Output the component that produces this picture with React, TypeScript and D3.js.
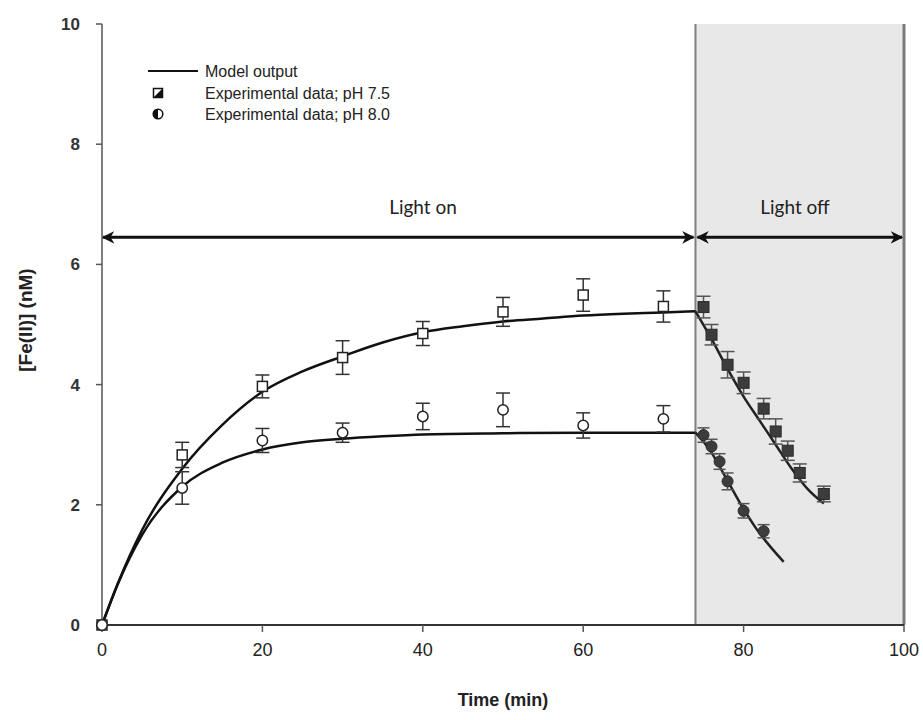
import React from "react";
import * as d3 from "d3";

// ---------- data ----------
const xTicks = [0, 20, 40, 60, 80, 100];
const yTicks = [0, 2, 4, 6, 8, 10];

// Light on experimental data
const onTime = [0, 10, 20, 30, 40, 50, 60, 70];
const onPH75 = [0, 2.83, 3.97, 4.45, 4.85, 5.21, 5.49, 5.3];
const onPH75Err = [0, 0.21, 0.19, 0.28, 0.2, 0.24, 0.27, 0.26];
const onPH80 = [0, 2.28, 3.07, 3.2, 3.47, 3.58, 3.32, 3.43];
const onPH80Err = [0, 0.27, 0.2, 0.16, 0.22, 0.28, 0.21, 0.22];

// Light off experimental data
const offTime75 = [75, 76, 78, 80, 82.5, 84, 85.5, 87, 90];
const offPH75 = [5.29, 4.83, 4.33, 4.03, 3.6, 3.22, 2.9, 2.53, 2.18];
const offPH75Err = [0.18, 0.17, 0.22, 0.18, 0.17, 0.21, 0.16, 0.15, 0.13];
const offTime80 = [75, 76, 77, 78, 80, 82.5];
const offPH80 = [3.16, 2.97, 2.72, 2.39, 1.9, 1.56];
const offPH80Err = [0.12, 0.12, 0.13, 0.14, 0.12, 0.11];

// Model output
const modelOnT75 = [0, 2, 5, 10, 15, 20, 25, 30, 35, 40, 45, 50, 55, 60, 65, 70, 74];
const modelOnPH75 = [0, 0.7, 1.58, 2.6, 3.33, 3.88, 4.22, 4.47, 4.7, 4.87, 4.97, 5.05, 5.1, 5.15, 5.18, 5.2, 5.22];
const modelOffT75 = [74, 76, 78, 80, 82, 84, 86, 88, 90];
const modelOffPH75 = [5.22, 4.76, 4.26, 3.8, 3.4, 3.0, 2.6, 2.26, 2.02];
const modelOnT80 = [0, 2, 5, 10, 15, 20, 25, 30, 35, 40, 50, 60, 74];
const modelOnPH80 = [0, 0.69, 1.5, 2.3, 2.7, 2.92, 3.04, 3.1, 3.14, 3.17, 3.19, 3.2, 3.2];
const modelOffT80 = [74, 75.8, 77.5, 79.6, 81.6, 85];
const modelOffPH80 = [3.2, 2.91, 2.52, 2.02, 1.6, 1.05];

const lightOffStart = 74;
const arrowLevel = 6.45;

// ---------- layout ----------
const W = 923;
const H = 720;
const x = d3.scaleLinear().domain([0, 100]).range([102, 904]);
const y = d3.scaleLinear().domain([0, 10]).range([625, 24]);

const lineGen = d3
  .line<[number, number]>()
  .x((d) => x(d[0]))
  .y((d) => y(d[1]))
  .curve(d3.curveMonotoneX);

function zip(a: number[], b: number[]): [number, number][] {
  return a.map((v, i) => [v, b[i]] as [number, number]);
}

function ErrorBars({ t, v, e, cap, color }: { t: number[]; v: number[]; e: number[]; cap: number; color: string }) {
  return (
    <g stroke={color} strokeWidth={1.5} fill="none">
      {t.map((tt, i) =>
        e[i] > 0 ? (
          <g key={i}>
            <line x1={x(tt)} x2={x(tt)} y1={y(v[i] - e[i])} y2={y(v[i] + e[i])} />
            <line x1={x(tt) - cap} x2={x(tt) + cap} y1={y(v[i] + e[i])} y2={y(v[i] + e[i])} />
            <line x1={x(tt) - cap} x2={x(tt) + cap} y1={y(v[i] - e[i])} y2={y(v[i] - e[i])} />
          </g>
        ) : null
      )}
    </g>
  );
}

export default function App() {
  const arrowY = y(arrowLevel);
  const shadeX = x(lightOffStart);
  const font = "'Liberation Sans', Arial, sans-serif";
  return (
    <svg width={W} height={H} style={{ position: "absolute", left: 0, top: 0, background: "#fff" }}>
      <defs>
        <marker id="ah" viewBox="0 0 10 10" refX={9} refY={5} markerWidth={4.2} markerHeight={4.2} orient="auto-start-reverse">
          <path d="M0,0 L10,5 L0,10 L3,5 Z" fill="#111" />
        </marker>
      </defs>

      {/* light off shaded region */}
      <rect x={shadeX} y={y(10)} width={x(100) - shadeX} height={y(0) - y(10)} fill="#e8e8e8" />
      <line x1={shadeX} x2={shadeX} y1={y(10)} y2={y(0)} stroke="#808080" strokeWidth={2} />
      <line x1={x(100)} x2={x(100)} y1={y(10)} y2={y(0)} stroke="#7a7a7a" strokeWidth={3} />

      {/* axes */}
      <g stroke="#555" strokeWidth={1.5}>
        <line x1={x(0)} x2={x(0)} y1={y(10)} y2={y(0)} />
        <line x1={x(0)} x2={x(100)} y1={y(0)} y2={y(0)} stroke="#333" strokeWidth={2} />
        {yTicks.map((t) => (
          <line key={"yt" + t} x1={x(0) - 6} x2={x(0)} y1={y(t)} y2={y(t)} />
        ))}
        {xTicks.map((t) => (
          <line key={"xt" + t} x1={x(t)} x2={x(t)} y1={y(0)} y2={y(0) + 7} />
        ))}
      </g>
      {yTicks.map((t) => (
        <text key={"yl" + t} x={x(0) - 22} y={y(t) + 6} textAnchor="end" fontFamily={font} fontWeight="bold" fontSize={17} fill="#333">
          {t}
        </text>
      ))}
      {xTicks.map((t) => (
        <text key={"xl" + t} x={x(t)} y={y(0) + 31} textAnchor="middle" fontFamily={font} fontSize={18} fill="#222">
          {t}
        </text>
      ))}
      <text x={503} y={706} textAnchor="middle" fontFamily={font} fontWeight="bold" fontSize={18} fill="#222">
        Time (min)
      </text>
      <text transform={`translate(32,320) rotate(-90)`} textAnchor="middle" fontFamily={font} fontWeight="bold" fontSize={19} fill="#222">
        [Fe(II)] (nM)
      </text>

      {/* model curves */}
      <path d={lineGen(zip(modelOnT75, modelOnPH75)) || ""} fill="none" stroke="#111" strokeWidth={2.5} />
      <path d={lineGen(zip(modelOffT75, modelOffPH75)) || ""} fill="none" stroke="#222" strokeWidth={2.5} />
      <path d={lineGen(zip(modelOnT80, modelOnPH80)) || ""} fill="none" stroke="#111" strokeWidth={2.5} />
      <path d={lineGen(zip(modelOffT80, modelOffPH80)) || ""} fill="none" stroke="#222" strokeWidth={2.5} />

      {/* error bars */}
      <ErrorBars t={onTime} v={onPH75} e={onPH75Err} cap={7} color="#333" />
      <ErrorBars t={onTime} v={onPH80} e={onPH80Err} cap={7} color="#333" />
      <ErrorBars t={offTime75} v={offPH75} e={offPH75Err} cap={7} color="#555" />
      <ErrorBars t={offTime80} v={offPH80} e={offPH80Err} cap={6} color="#555" />

      {/* light on markers */}
      {onTime.map((t, i) => (
        <rect key={"sq" + i} x={x(t) - 5} y={y(onPH75[i]) - 5} width={10} height={10} fill="#fff" stroke="#222" strokeWidth={1.5} />
      ))}
      {onTime.map((t, i) => (
        <circle key={"ci" + i} cx={x(t)} cy={y(onPH80[i])} r={5.2} fill="#fff" stroke="#222" strokeWidth={1.5} />
      ))}
      {/* light off markers */}
      {offTime75.map((t, i) => (
        <rect key={"fsq" + i} x={x(t) - 5.5} y={y(offPH75[i]) - 5.5} width={11} height={11} fill="#3c3c3c" stroke="#2a2a2a" strokeWidth={1} />
      ))}
      {offTime80.map((t, i) => (
        <circle key={"fci" + i} cx={x(t)} cy={y(offPH80[i])} r={5.5} fill="#3c3c3c" stroke="#2a2a2a" strokeWidth={1} />
      ))}

      {/* arrows */}
      <line x1={x(0) + 1} x2={shadeX - 2} y1={arrowY} y2={arrowY} stroke="#111" strokeWidth={3} markerStart="url(#ah)" markerEnd="url(#ah)" />
      <line x1={shadeX + 2} x2={x(100) - 2} y1={arrowY} y2={arrowY} stroke="#111" strokeWidth={3} markerStart="url(#ah)" markerEnd="url(#ah)" />
      <text x={423} y={214} textAnchor="middle" fontFamily="Lato, 'Open Sans', sans-serif" fontSize={19} fill="#222">
        Light on
      </text>
      <text x={795} y={214} textAnchor="middle" fontFamily="Lato, 'Open Sans', sans-serif" fontSize={19} fill="#222">
        Light off
      </text>

      {/* legend */}
      <line x1={148} x2={198} y1={71} y2={71} stroke="#111" strokeWidth={2} />
      <text x={205} y={77} fontFamily={font} fontSize={16} fill="#222">Model output</text>
      <rect x={153.5} y={88.5} width={9} height={9} fill="#fff" stroke="#111" strokeWidth={1.5} />
      <path d="M162.5,88.5 L162.5,97.5 L153.5,97.5 Z" fill="#111" />
      <text x={205} y={99} fontFamily={font} fontSize={16} fill="#222">Experimental data; pH 7.5</text>
      <circle cx={158} cy={114} r={4.8} fill="#fff" stroke="#111" strokeWidth={1.5} />
      <path d="M158,109.2 A4.8,4.8 0 0,0 158,118.8 Z" fill="#111" />
      <text x={205} y={120} fontFamily={font} fontSize={16} fill="#222">Experimental data; pH 8.0</text>
    </svg>
  );
}
